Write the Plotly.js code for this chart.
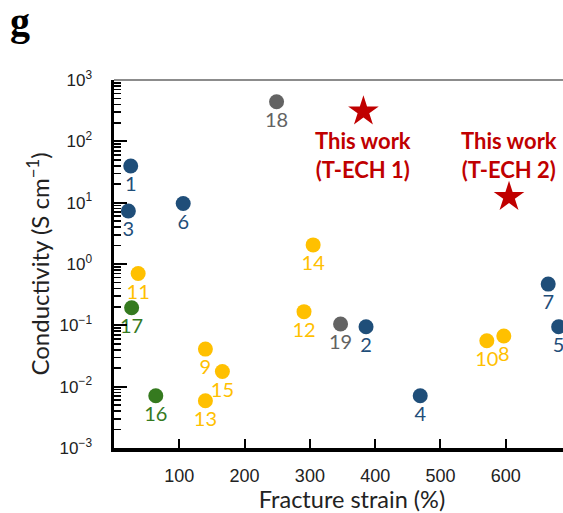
<!DOCTYPE html>
<html>
<head>
<meta charset="utf-8">
<script src="https://cdn.plot.ly/plotly-3.0.1.min.js"></script>
<style>
  html, body { margin: 0; padding: 0; overflow: hidden; background: #fff; }
  #chart { width: 590px; height: 513px; }
</style>
</head>
<body>
<div id="chart"></div>
<script>
// Conductivity vs fracture strain for reported conductive elastomers/gels
const blueIds = ['1', '2', '3', '4', '5', '6', '7'];
const blueStrain = [25.6, 386, 22, 469, 681, 106, 665];
const blueCond = [39.6, 0.095, 7.3, 0.0071, 0.095, 9.7, 0.47];

const yellowIds = ['8', '9', '10', '11', '12', '13', '14', '15'];
const yellowStrain = [597, 140, 571, 37, 291, 140, 305, 166];
const yellowCond = [0.067, 0.041, 0.056, 0.70, 0.167, 0.0059, 2.05, 0.0177];

const greenIds = ['16', '17'];
const greenStrain = [64, 27];
const greenCond = [0.0071, 0.194];

const grayIds = ['18', '19'];
const grayStrain = [249, 347];
const grayCond = [442, 0.105];

const workLabels = ['This work<br>(T-ECH 1)', 'This work<br>(T-ECH 2)'];
const workStrain = [382, 605];
const workCond = [307, 12.4];

const xTicks = [100, 200, 300, 400, 500, 600];
const yTicks = [0.001, 0.01, 0.1, 1, 10, 100, 1000];
const yTickText = ['10<sup>−3</sup>', '10<sup>−2</sup>', '10<sup>−1</sup>', '10<sup>0</sup>',
                   '10<sup>1</sup>', '10<sup>2</sup>', '10<sup>3</sup>'];

const FONT = 'Lato, "Open Sans", sans-serif';
const TICKFONT = '"Liberation Sans", Arial, sans-serif';

// minor log ticks at 2..9 of every decade
const minorTicks = [];
for (let d = -3; d < 3; d++) {
  for (let m = 2; m <= 9; m++) minorTicks.push(m * Math.pow(10, d));
}

function group(ids, xs, ys, color) {
  return {
    type: 'scatter', mode: 'markers+text',
    x: xs, y: ys, text: ids,
    textposition: 'bottom center',
    textfont: { family: FONT, size: 20, color: color },
    marker: { size: 15, color: color, line: { width: 0 } },
    cliponaxis: false, hoverinfo: 'x+y+text', showlegend: false
  };
}

const RED = '#c00000';
const traces = [
  group(blueIds, blueStrain, blueCond, '#1f4e79'),
  group(yellowIds, yellowStrain, yellowCond, '#ffc000'),
  group(greenIds, greenStrain, greenCond, '#357a1f'),
  group(grayIds, grayStrain, grayCond, '#636363'),
  {
    type: 'scatter', mode: 'markers',
    x: workStrain, y: workCond,
    marker: { symbol: 'star', size: 23, color: RED, line: { width: 0 } },
    cliponaxis: false, showlegend: false
  }
];

// Text blocks for the two stars: one below T-ECH 1, one above T-ECH 2
const workShift = [-44, 42];
const annotations = workStrain.map((x, i) => ({
  x: x, y: Math.log10(workCond[i]), xref: 'x', yref: 'y',
  text: '<b>' + workLabels[i] + '</b>', showarrow: false,
  yshift: workShift[i], align: 'center',
  font: { family: FONT, size: 22, color: RED }
}));
// panel letter
annotations.push({
  xref: 'paper', yref: 'paper', x: -0.222, y: 1.225,
  xanchor: 'left', yanchor: 'top', showarrow: false,
  text: '<b>g</b>', font: { family: '"Liberation Serif", "Times New Roman", serif', size: 40, color: '#000' }
});

const layout = {
  width: 590, height: 513,
  margin: { l: 114, r: 0, t: 80, b: 65 },
  paper_bgcolor: '#fff', plot_bgcolor: '#fff',
  font: { family: FONT, color: '#222' },
  xaxis: {
    range: [0, 729], showgrid: false, zeroline: false,
    showline: true, linecolor: '#000', linewidth: 3.5,
    ticks: 'inside', ticklen: 9, tickwidth: 2, tickcolor: '#000',
    tickvals: xTicks,
    ticklabelstandoff: 9,
    tickfont: { family: TICKFONT, size: 18, color: '#222' },
    title: { text: 'Fracture strain (%)', font: { family: FONT, size: 23.5, color: '#222' }, standoff: 6 }
  },
  yaxis: {
    type: 'log', range: [-3, 3], showgrid: false, zeroline: false,
    showline: true, linecolor: '#000', linewidth: 3.5,
    ticks: 'inside', ticklen: 13, tickwidth: 2, tickcolor: '#000',
    tickvals: yTicks, ticktext: yTickText,
    ticklabelstandoff: 15,
    tickfont: { family: TICKFONT, size: 17, color: '#222' },
    minor: { ticks: 'inside', ticklen: 7, tickwidth: 1.6, tickcolor: '#000', tickvals: minorTicks, showgrid: false },
    title: { text: 'Conductivity (S cm<sup>−1</sup>)', font: { family: FONT, size: 24, color: '#222' }, standoff: 4 }
  },
  shapes: [{
    type: 'line', xref: 'paper', yref: 'paper', x0: 0, x1: 1, y0: 1, y1: 1,
    line: { color: '#666', width: 1.5 }
  }],
  annotations: annotations
};

Plotly.newPlot('chart', traces, layout, { staticPlot: true, displayModeBar: false });
</script>
</body>
</html>
